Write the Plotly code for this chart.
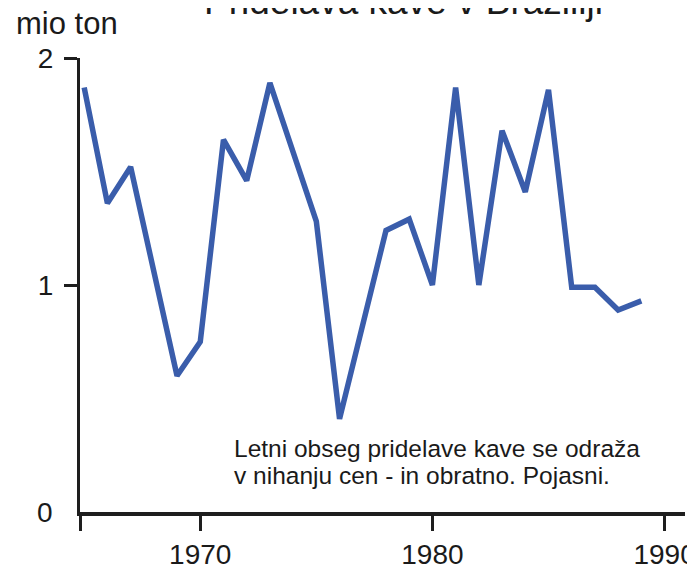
import plotly.graph_objects as go

years = [1965, 1966, 1967, 1969, 1970, 1971, 1972, 1973, 1975, 1976, 1978, 1979,
         1980, 1981, 1982, 1983, 1984, 1985, 1986, 1987, 1988, 1989]
production = [1.87, 1.36, 1.52, 0.60, 0.75, 1.64, 1.46, 1.89, 1.28, 0.41, 1.24, 1.29,
              1.00, 1.87, 1.00, 1.68, 1.41, 1.86, 0.99, 0.99, 0.89, 0.93]
x_ticks = [1970, 1980, 1990]
y_ticks = [1, 2]

title_text = "Pridelava kave v Braziliji"
unit_text = "mio ton"
note_lines = ["Letni obseg pridelave kave se odraža",
              "v nihanju cen - in obratno. Pojasni."]

FONT = "Liberation Sans, Arial, Helvetica, sans-serif"
INK = "#1a1a1a"
x_range = [1964.82, 1990.88]

fig = go.Figure()
fig.add_trace(go.Scatter(
    x=years, y=production, mode="lines",
    line=dict(color="#3a5dab", width=5.5),
    showlegend=False, hoverinfo="skip",
))

# the page body adds an 8px offset, so the figure is 8px smaller than the window
fig.update_layout(
    width=687, height=562,
    margin=dict(l=72, r=0, t=50, b=57),
    paper_bgcolor="#ffffff", plot_bgcolor="#ffffff",
    font=dict(family=FONT, color=INK, size=28),
    xaxis=dict(
        range=x_range, showgrid=False, zeroline=False,
        showline=True, linecolor="#1e1e1e", linewidth=4,
        tickmode="array",
        tickvals=[x_range[0]] + x_ticks,
        ticktext=[""] + [str(t) for t in x_ticks],
        ticks="outside", ticklen=15, tickwidth=3, tickcolor="#1e1e1e",
        ticklabelstandoff=-1, ticklabeloverflow="allow",
        tickfont=dict(size=28, family=FONT, color=INK),
    ),
    yaxis=dict(
        range=[0, 2], showgrid=False, zeroline=False,
        showline=True, linecolor="#1e1e1e", linewidth=3,
        tickmode="array", tickvals=y_ticks, ticktext=[str(t) for t in y_ticks],
        ticks="outside", ticklen=13, tickwidth=3, tickcolor="#1e1e1e",
        ticklabelstandoff=5,
        tickfont=dict(size=28, family=FONT, color=INK),
    ),
)

# "0" label at the origin (no tick there in the original)
fig.add_annotation(
    x=0, xref="paper", y=0, yref="y", text="0", showarrow=False,
    xanchor="right", yanchor="middle", xshift=-25,
    font=dict(size=28, family=FONT, color=INK),
)
# unit label
fig.add_annotation(
    x=0, xref="paper", y=1, yref="paper", text=unit_text, showarrow=False,
    xanchor="left", yanchor="middle", xshift=-66, yshift=35,
    font=dict(size=31, family=FONT, color=INK),
)
# title, cut off at the top edge
fig.add_annotation(
    x=0.535, xref="paper", y=1, yref="paper", text=title_text, showarrow=False,
    xanchor="center", yanchor="bottom", yshift=34,
    font=dict(size=37, family=FONT, color=INK),
)
# note, two lines
for line_text, ypos in zip(note_lines, [0.139, 0.081]):
    fig.add_annotation(
        x=0.252, xref="paper", y=ypos, yref="paper", text=line_text, showarrow=False,
        xanchor="left", yanchor="middle", align="left",
        font=dict(size=24.5, family=FONT, color=INK),
    )

fig.write_html("out.html")
